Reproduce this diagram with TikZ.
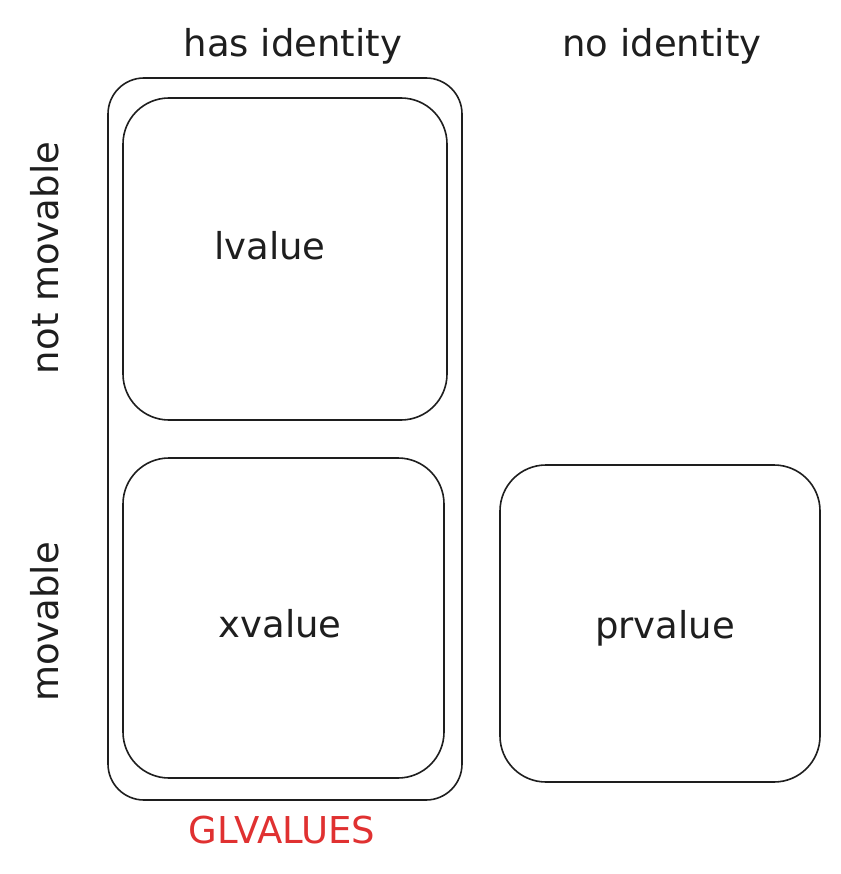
\documentclass[tikz,border=0pt]{standalone}
\usepackage{fontspec}
\setmainfont{DejaVu Sans}
\definecolor{exred}{HTML}{E03131}
\definecolor{exink}{HTML}{1E1E1E}
\begin{document}
\begin{tikzpicture}[x=1pt,y=-1pt,
  box/.style={draw=exink,line width=1.6pt},
  lbl/.style={text=exink,font=\fontsize{37}{40}\selectfont,inner sep=0pt}]
\useasboundingbox (0,0) rectangle (840,874);
\fill[white] (0,0) rectangle (840,874);
% outer glvalues
\draw[box,rounded corners=36pt] (108,78) rectangle (462,800);
% lvalue
\draw[box,rounded corners=46pt] (123,98) rectangle (447,420);
% xvalue
\draw[box,rounded corners=46pt] (123,458) rectangle (444,778);
% prvalue
\draw[box,rounded corners=46pt] (500,465) rectangle (820,782);
% labels
\node[lbl] (hasid) at (293,46) {has identity};
\node[lbl] (noid) at (662,46) {no identity};
\node[lbl,rotate=90] (notmov) at (45,258) {not movable};
\node[lbl,rotate=90] (mov) at (45,622) {movable};
\node[lbl] (lv) at (270,246) {lvalue};
\node[lbl] (xv) at (280,624) {xvalue};
\node[lbl] (prv) at (665,628) {prvalue};
\node[lbl,text=exred] (gl) at (282,830) {GLVALUES};
\end{tikzpicture}
\end{document}
